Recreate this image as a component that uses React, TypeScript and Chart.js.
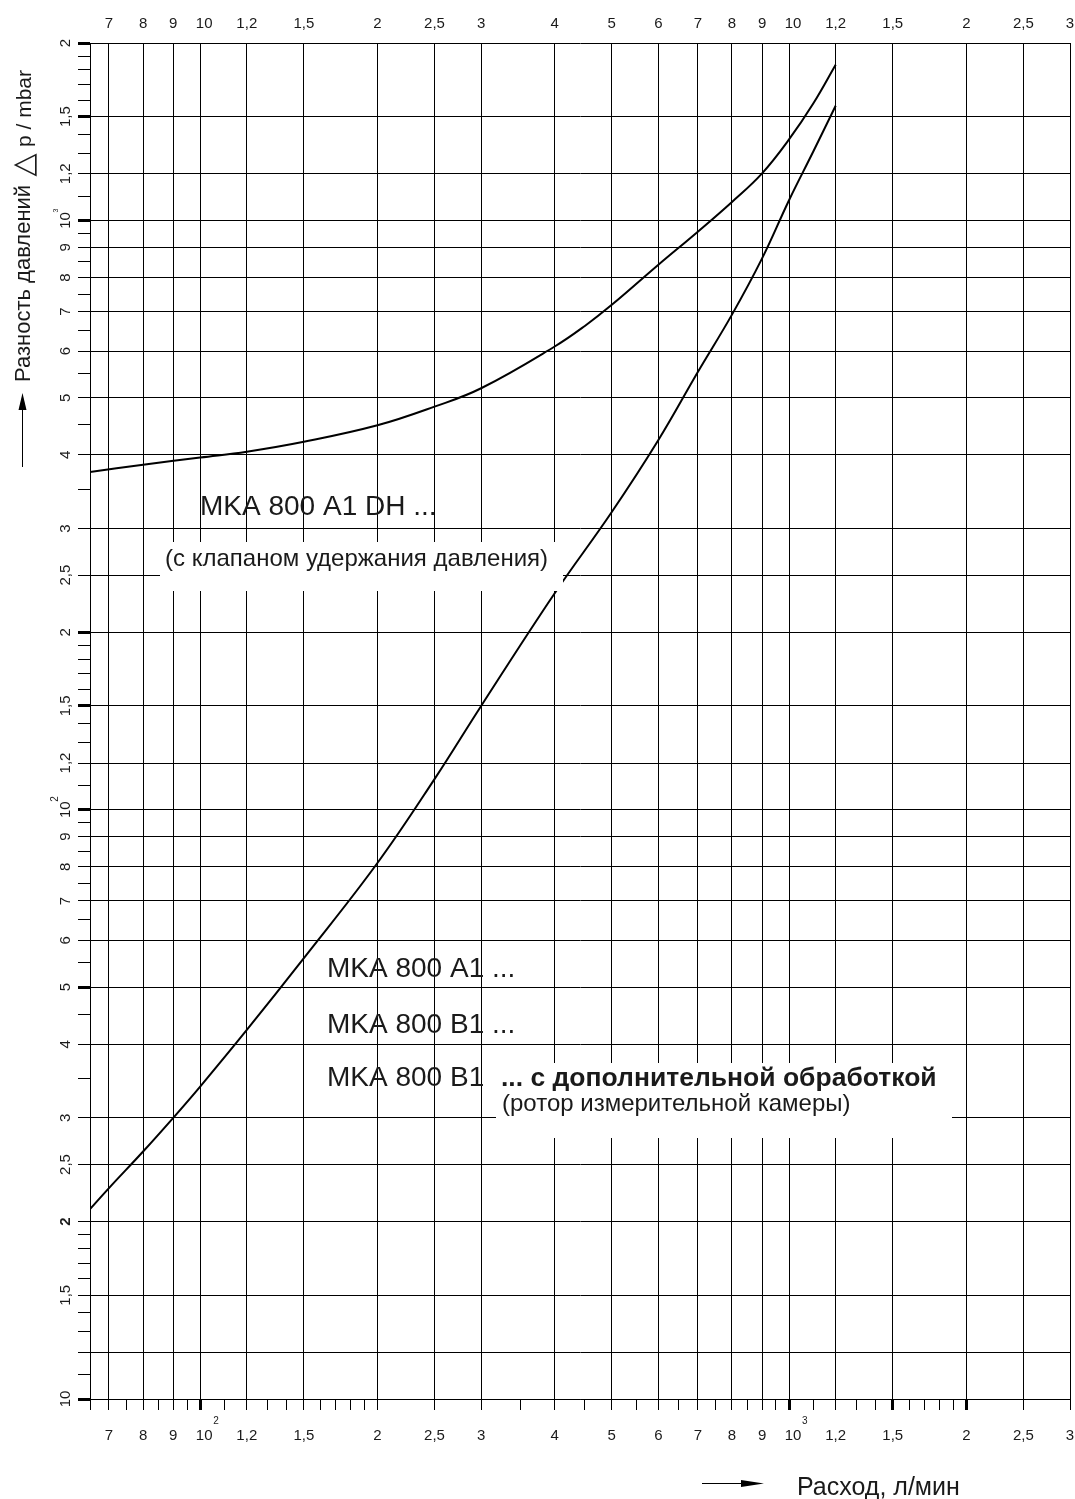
import React, { useEffect, useRef } from 'react';
import { Chart, registerables } from 'chart.js';

Chart.register(...registerables);

// ---- Data (flow in l/min, pressure difference in mbar) ----
const flowDH = [65, 80, 100, 120, 150, 200, 250, 300, 400, 450, 500, 600, 700, 800, 900, 1000, 1100, 1200];
const dpDH = [374, 385, 396, 405, 421, 449, 483, 519, 611, 662, 719, 841, 957, 1075, 1202, 1372, 1580, 1837];

const flowA1 = [65, 70, 80, 90, 100, 120, 150, 200, 250, 300, 400, 500, 600, 700, 800, 900, 1000, 1100, 1200];
const dpA1 = [21, 22.8, 26.3, 30, 33.9, 42.3, 56, 81.2, 112.7, 150, 233, 320, 424, 553, 692, 862, 1082, 1310, 1565];

// ---- Axis ticks ----
const xGridValues = [65, 70, 80, 90, 100, 120, 150, 200, 250, 300, 400, 500, 600, 700, 800, 900, 1000, 1200, 1500, 2000, 2500, 3000];
const xMinorValues = [75, 85, 95, 110, 130, 140, 160, 170, 180, 190, 350, 450, 550, 650, 750, 850, 950, 1100, 1300, 1400, 1600, 1700, 1800, 1900];
const xThickValues = [100, 1000, 1500, 2000];
const xLabelValues = [70, 80, 90, 100, 120, 150, 200, 250, 300, 400, 500, 600, 700, 800, 900, 1000, 1200, 1500, 2000, 2500, 3000];
const xLabelTexts = ['7', '8', '9', '10', '1,2', '1,5', '2', '2,5', '3', '4', '5', '6', '7', '8', '9', '10', '1,2', '1,5', '2', '2,5', '3'];
const xSupValues = [100, 1000];
const xSupTexts = ['2', '3'];

const yGridValues = [10, 12, 15, 20, 25, 30, 40, 50, 60, 70, 80, 90, 100, 120, 150, 200, 250, 300, 400, 500, 600, 700, 800, 900, 1000, 1200, 1500, 2000];
const yMinorValues = [11, 13, 14, 16, 17, 18, 19, 35, 45, 55, 65, 75, 85, 95, 110, 130, 140, 160, 170, 180, 190, 350, 450, 550, 650, 750, 850, 950, 1100, 1300, 1400, 1600, 1700, 1800, 1900];
const yThickValues = [10, 50, 100, 150, 200, 1000, 1500, 2000];
const yLabelValues = [10, 15, 20, 25, 30, 40, 50, 60, 70, 80, 90, 100, 120, 150, 200, 250, 300, 400, 500, 600, 700, 800, 900, 1000, 1200, 1500, 2000];
const yLabelTexts = ['10', '1,5', '2', '2,5', '3', '4', '5', '6', '7', '8', '9', '10', '1,2', '1,5', '2', '2,5', '3', '4', '5', '6', '7', '8', '9', '10', '1,2', '1,5', '2'];
const ySupValues = [100, 1000];
const ySupTexts = ['2', '3'];

const xTitle = 'Расход, л/мин';
const yTitleMain = 'Разность давлений';
const yTitleSymbol = '△';
const yTitleUnit = 'p / mbar';

const curveLabelDH = 'MKA 800 A1 DH ...';
const curveNoteDH = '(с клапаном удержания давления)';
const curveLabelA1 = 'MKA 800 A1 ...';
const curveLabelB1 = 'MKA 800 B1 ...';
const curveLabelB1x = 'MKA 800 B1';
const curveLabelB1xBold = '... с дополнительной обработкой';
const curveNoteB1x = '(ротор измерительной камеры)';

const FONT = '"Liberation Sans", Arial, Helvetica, sans-serif';
const TEXT = '#1a1a1a';

const near = (arr: number[], v: number | undefined) =>
  v !== undefined && arr.some((a) => Math.abs(a - v) < 1e-6 * a);

const overlayPlugin = {
  id: 'overlay',
  afterDatasetsDraw(chart: any) {
    const ctx: CanvasRenderingContext2D = chart.ctx;
    ctx.save();
    // white label backgrounds that interrupt the grid
    ctx.fillStyle = '#ffffff';
    ctx.fillRect(160, 542, 403, 49);
    ctx.fillRect(496, 1063, 456, 75);

    ctx.fillStyle = TEXT;
    ctx.textAlign = 'left';
    ctx.textBaseline = 'alphabetic';
    ctx.font = `28px ${FONT}`;
    ctx.fillText(curveLabelDH, 200, 515);
    ctx.fillText(curveLabelA1, 327, 977);
    ctx.fillText(curveLabelB1, 327, 1033);
    ctx.fillText(curveLabelB1x, 327, 1086);
    ctx.font = `bold 26.5px ${FONT}`;
    ctx.fillText(curveLabelB1xBold, 501, 1086);
    ctx.font = `24px ${FONT}`;
    ctx.fillText(curveNoteDH, 165, 566);
    ctx.fillText(curveNoteB1x, 502, 1111);
    ctx.restore();
  },
  afterDraw(chart: any) {
    const ctx: CanvasRenderingContext2D = chart.ctx;
    const xs = chart.scales.x;
    const ys = chart.scales.y;
    ctx.save();
    ctx.fillStyle = TEXT;
    ctx.strokeStyle = '#000';

    // x tick labels, top and bottom
    ctx.font = `15px ${FONT}`;
    ctx.textAlign = 'center';
    ctx.textBaseline = 'alphabetic';
    xLabelValues.forEach((v, i) => {
      const t = xLabelTexts[i];
      const px = xs.getPixelForValue(v) + (t === '10' ? 4 : 0);
      ctx.fillText(t, px, 28);
      ctx.fillText(t, px, 1440);
    });
    ctx.font = `10px ${FONT}`;
    ctx.textAlign = 'left';
    xSupValues.forEach((v, i) => {
      const px = xs.getPixelForValue(v);
      ctx.fillText(xSupTexts[i], px + 13, 1424);
    });

    // y tick labels (rotated)
    yLabelValues.forEach((v, i) => {
      const py = ys.getPixelForValue(v);
      ctx.save();
      ctx.translate(70, py);
      ctx.rotate(-Math.PI / 2);
      ctx.textAlign = 'center';
      ctx.font = (v === 20 ? 'bold ' : '') + `15px ${FONT}`;
      ctx.fillText(yLabelTexts[i], 0, 0);
      ctx.restore();
    });
    ySupValues.forEach((v, i) => {
      const py = ys.getPixelForValue(v);
      ctx.save();
      ctx.translate(70, py);
      ctx.rotate(-Math.PI / 2);
      ctx.textAlign = 'left';
      ctx.font = `${v === 1000 ? 7 : 10}px ${FONT}`;
      ctx.fillText(ySupTexts[i], 8, -12);
      ctx.restore();
    });

    // y axis title
    ctx.save();
    ctx.translate(30, 382);
    ctx.rotate(-Math.PI / 2);
    ctx.textAlign = 'left';
    ctx.font = `22px ${FONT}`;
    ctx.fillText(yTitleMain, 0, 0);
    ctx.restore();

    ctx.save();
    ctx.translate(33, 165);
    ctx.rotate(-Math.PI / 2);
    ctx.textAlign = 'center';
    ctx.font = `30px "DejaVu Sans", ${FONT}`;
    ctx.fillText(yTitleSymbol, 0, 0);
    ctx.restore();

    ctx.save();
    ctx.translate(31, 147);
    ctx.rotate(-Math.PI / 2);
    ctx.textAlign = 'left';
    ctx.font = `21px ${FONT}`;
    ctx.fillText(yTitleUnit, 0, 0);
    ctx.restore();

    // y arrow
    ctx.lineWidth = 1;
    ctx.beginPath();
    ctx.moveTo(22.5, 467);
    ctx.lineTo(22.5, 405);
    ctx.stroke();
    ctx.fillStyle = '#000';
    ctx.beginPath();
    ctx.moveTo(22.5, 393);
    ctx.lineTo(18.5, 410);
    ctx.lineTo(26.5, 410);
    ctx.closePath();
    ctx.fill();

    // x arrow
    ctx.beginPath();
    ctx.moveTo(702, 1483.5);
    ctx.lineTo(750, 1483.5);
    ctx.stroke();
    ctx.beginPath();
    ctx.moveTo(764, 1483.5);
    ctx.lineTo(741, 1480);
    ctx.lineTo(741, 1487);
    ctx.closePath();
    ctx.fill();

    // x axis title
    ctx.fillStyle = TEXT;
    ctx.textAlign = 'left';
    ctx.font = `25px ${FONT}`;
    ctx.fillText(xTitle, 797, 1495);

    ctx.restore();
  },
};

export default function App() {
  const ref = useRef<HTMLCanvasElement | null>(null);

  useEffect(() => {
    if (!ref.current) return;
    const allX = [...xGridValues, ...xMinorValues].sort((a, b) => a - b);
    const allY = [...yGridValues, ...yMinorValues].sort((a, b) => a - b);
    const chart = new Chart(ref.current, {
      type: 'scatter',
      data: {
        datasets: [
          {
            label: curveLabelDH,
            data: flowDH.map((x, i) => ({ x, y: dpDH[i] })),
            showLine: true,
            borderColor: '#000',
            borderWidth: 2,
            pointRadius: 0,
            tension: 0.4,
            fill: false,
          },
          {
            label: curveLabelA1,
            data: flowA1.map((x, i) => ({ x, y: dpA1[i] })),
            showLine: true,
            borderColor: '#000',
            borderWidth: 2,
            pointRadius: 0,
            tension: 0.4,
            fill: false,
          },
        ],
      },
      options: {
        responsive: false,
        animation: false,
        events: [],
        layout: { padding: { left: 78, top: 43, right: 5, bottom: 89 } },
        plugins: {
          legend: { display: false },
          tooltip: { enabled: false },
          title: { display: false },
        },
        scales: {
          x: {
            type: 'logarithmic',
            position: 'bottom',
            min: 65,
            max: 3000,
            bounds: 'data',
            afterBuildTicks: (s: any) => {
              s.ticks = allX.map((v) => ({ value: v }));
            },
            ticks: { display: false },
            grid: {
              color: (c: any) => (near(xGridValues, c.tick?.value) ? '#000' : 'rgba(0,0,0,0)'),
              lineWidth: 1,
              drawTicks: true,
              tickLength: 11,
              tickColor: '#000',
              tickWidth: (c: any) => (near(xThickValues, c.tick?.value) ? 3 : 1),
            },
            border: { display: true, color: '#000', width: 1 },
          },
          y: {
            type: 'logarithmic',
            position: 'left',
            min: 10,
            max: 2000,
            bounds: 'data',
            afterBuildTicks: (s: any) => {
              s.ticks = allY.map((v) => ({ value: v }));
            },
            ticks: { display: false },
            grid: {
              color: (c: any) => (near(yGridValues, c.tick?.value) ? '#000' : 'rgba(0,0,0,0)'),
              lineWidth: 1,
              drawTicks: true,
              tickLength: 12,
              tickColor: '#000',
              tickWidth: (c: any) => (near(yThickValues, c.tick?.value) ? 3 : 1),
            },
            border: { display: true, color: '#000', width: 1 },
          },
        },
      } as any,
      plugins: [overlayPlugin],
    });
    return () => chart.destroy();
  }, []);

  return (
    <div style={{ position: 'absolute', left: 0, top: 0, width: 1075, height: 1499, background: '#fff' }}>
      <canvas ref={ref} width={1075} height={1499} style={{ display: 'block', width: 1075, height: 1499 }} />
    </div>
  );
}
